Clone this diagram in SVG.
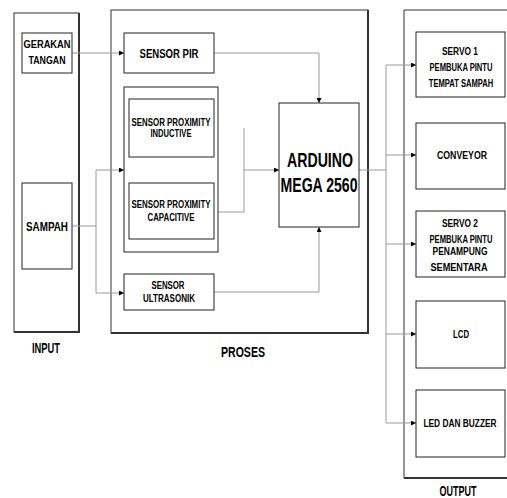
<svg xmlns="http://www.w3.org/2000/svg" width="507" height="498" viewBox="0 0 507 498">
<style>
.box{fill:#fff;stroke:#222;stroke-width:1}
.outer{fill:none;stroke:#333;stroke-width:1}
.shadow{fill:none;stroke:#333;stroke-width:2}
.t{font-family:"Liberation Sans",Arial,sans-serif;font-weight:bold;text-anchor:middle;fill:#000}
.s10{font-size:11px}
.s12{font-size:12.5px}
.s14{font-size:14px}
.s20{font-size:21px}
.c{fill:none;stroke:#999;stroke-width:1}
</style>
<defs>
<marker id="ar" viewBox="0 0 6 6" refX="6" refY="3" markerWidth="5" markerHeight="5" markerUnits="userSpaceOnUse" orient="auto">
<path d="M0,0 L6,3 L0,6 z" fill="#000"/>
</marker>
</defs>
<rect x="0" y="0" width="507" height="498" fill="#fff"/>
<g id="input">
<rect class="outer" x="14" y="13" width="65" height="319"/>
<polyline class="shadow" points="79,13 79,332 14,332"/>
<text class="t s14" x="46" y="353" textLength="28" lengthAdjust="spacingAndGlyphs">INPUT</text>
</g>
<g id="proses">
<rect class="outer" x="111" y="10" width="257" height="323"/>
<polyline class="shadow" points="368,10 368,333 111,333"/>
<text class="t s14" x="243" y="357" textLength="44" lengthAdjust="spacingAndGlyphs">PROSES</text>
</g>
<g id="output">
<polyline class="outer" points="507,10 404,10 404,478"/>
<line class="shadow" x1="404" y1="478" x2="507" y2="478"/>
<text class="t s14" x="458" y="496" textLength="37" lengthAdjust="spacingAndGlyphs">OUTPUT</text>
</g>
<g id="connectors">
<line class="c" x1="72" y1="53" x2="124" y2="53" marker-end="url(#ar)"/>
<polyline class="c" points="214,53 319,53 319,103" marker-end="url(#ar)"/>
<polyline class="c" points="72,226 96,226"/>
<polyline class="c" points="96,170 96,293"/>
<line class="c" x1="96" y1="170" x2="124" y2="170" marker-end="url(#ar)"/>
<line class="c" x1="96" y1="293" x2="124" y2="293" marker-end="url(#ar)"/>
<polyline class="c" points="214,212 244,212 244,128"/>
<line class="c" x1="244" y1="170" x2="279" y2="170" marker-end="url(#ar)"/>
<polyline class="c" points="214,292 319,292 319,227" marker-end="url(#ar)"/>
<line class="c" x1="359" y1="170" x2="386" y2="170"/>
<line class="c" x1="386" y1="65" x2="386" y2="423"/>
<line class="c" x1="386" y1="65" x2="416" y2="65" marker-end="url(#ar)"/>
<line class="c" x1="386" y1="155" x2="416" y2="155" marker-end="url(#ar)"/>
<line class="c" x1="386" y1="244" x2="416" y2="244" marker-end="url(#ar)"/>
<line class="c" x1="386" y1="334" x2="416" y2="334" marker-end="url(#ar)"/>
<line class="c" x1="386" y1="423" x2="416" y2="423" marker-end="url(#ar)"/>
</g>
<g id="gerakan">
<rect class="box" x="22" y="33" width="50" height="40"/>
<text class="t s10" x="47" y="48" textLength="47" lengthAdjust="spacingAndGlyphs">GERAKAN</text>
<text class="t s10" x="47" y="64" textLength="37" lengthAdjust="spacingAndGlyphs">TANGAN</text>
</g>
<g id="sampah">
<rect class="box" x="22" y="183" width="50" height="86"/>
<text class="t s12" x="47" y="231" textLength="42" lengthAdjust="spacingAndGlyphs">SAMPAH</text>
</g>
<g id="pir">
<rect class="box" x="124" y="33" width="90" height="40"/>
<text class="t s12" x="169" y="58" textLength="59" lengthAdjust="spacingAndGlyphs">SENSOR PIR</text>
</g>
<g id="proximity">
<rect class="box" x="124" y="87" width="94" height="165"/>
</g>
<g id="inductive">
<rect class="box" x="129" y="99" width="85" height="58"/>
<text class="t s10" x="171" y="126" textLength="79" lengthAdjust="spacingAndGlyphs">SENSOR PROXIMITY</text>
<text class="t s10" x="171" y="137" textLength="41" lengthAdjust="spacingAndGlyphs">INDUCTIVE</text>
</g>
<g id="capacitive">
<rect class="box" x="129" y="183" width="85" height="56"/>
<text class="t s10" x="171" y="208" textLength="79" lengthAdjust="spacingAndGlyphs">SENSOR PROXIMITY</text>
<text class="t s10" x="171" y="221" textLength="47" lengthAdjust="spacingAndGlyphs">CAPACITIVE</text>
</g>
<g id="ultrasonik">
<rect class="box" x="124" y="274" width="90" height="36"/>
<text class="t s10" x="168" y="289" textLength="33" lengthAdjust="spacingAndGlyphs">SENSOR</text>
<text class="t s10" x="169" y="302" textLength="52" lengthAdjust="spacingAndGlyphs">ULTRASONIK</text>
</g>
<g id="arduino">
<rect class="box" x="279" y="103" width="80" height="124"/>
<text class="t s20" x="320" y="167" textLength="66" lengthAdjust="spacingAndGlyphs">ARDUINO</text>
<text class="t s20" x="319" y="192" textLength="77" lengthAdjust="spacingAndGlyphs">MEGA 2560</text>
</g>
<g id="servo1">
<rect class="box" x="416" y="32" width="89" height="65"/>
<text class="t s10" x="460" y="55" textLength="36" lengthAdjust="spacingAndGlyphs">SERVO 1</text>
<text class="t s10" transform="translate(461,71) scale(0.69,1)">PEMBUKA PINTU</text>
<text class="t s10" transform="translate(461,87) scale(0.69,1)">TEMPAT SAMPAH</text>
</g>
<g id="conveyor">
<rect class="box" x="416" y="123" width="89" height="66"/>
<text class="t s10" x="462" y="159" textLength="50" lengthAdjust="spacingAndGlyphs">CONVEYOR</text>
</g>
<g id="servo2">
<rect class="box" x="416" y="211" width="89" height="66"/>
<text class="t s10" x="460" y="227" textLength="36" lengthAdjust="spacingAndGlyphs">SERVO 2</text>
<text class="t s10" transform="translate(461,243) scale(0.69,1)">PEMBUKA PINTU</text>
<text class="t s10" x="460" y="255" textLength="55" lengthAdjust="spacingAndGlyphs">PENAMPUNG</text>
<text class="t s10" x="459" y="271" textLength="57" lengthAdjust="spacingAndGlyphs">SEMENTARA</text>
</g>
<g id="lcd">
<rect class="box" x="416" y="301" width="89" height="67"/>
<text class="t s10" x="461" y="338" textLength="16" lengthAdjust="spacingAndGlyphs">LCD</text>
</g>
<g id="led">
<rect class="box" x="416" y="390" width="89" height="67"/>
<text class="t s10" transform="translate(460,427) scale(0.76,1)">LED DAN BUZZER</text>
</g>
</svg>
